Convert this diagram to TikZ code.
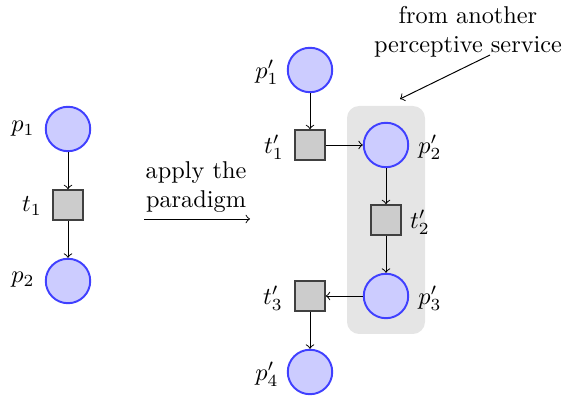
\documentclass[tikz,border=0pt]{standalone}
\usetikzlibrary{arrows}
\begin{document}
\begin{tikzpicture}[x=0.4115pt,y=-0.4115pt,
  place/.style={circle,draw=blue!75,fill=blue!20,thick,minimum size=18.3pt,inner sep=0pt},
  transition/.style={rectangle,draw=black!75,fill=black!20,thick,minimum size=12.2pt,inner sep=0pt},
  lbl/.style={inner sep=0pt},
  conn/.style={->}]
\useasboundingbox (0,0) rectangle (566,397);
\fill[black!10,rounded corners=5pt] (347,106) rectangle (425,334);
% left net
\node[place] (p1) at (68,129) {};
\node[transition] (t1) at (68,205) {};
\node[place] (p2) at (68,281) {};
\node[lbl] (lp1) at (23,129) {$p_1$};
\node[lbl] (lt1) at (32,206) {$t_1$};
\node[lbl] (lp2) at (23,280) {$p_2$};
\draw[conn] (p1) -- (t1);
\draw[conn] (t1) -- (p2);
% transformation arrow
\coordinate (a1) at (144,219);
\coordinate (a2) at (250,219);
\draw[conn] (a1) -- (a2);
\node[align=center,inner sep=0pt] (apply) at (196,187) {apply the\\paradigm};
% right net
\node[place] (q1) at (310,70) {};
\node[transition] (u1) at (310,145) {};
\node[place] (q2) at (386,145) {};
\node[transition] (u2) at (386,220) {};
\node[place] (q3) at (386,296) {};
\node[transition] (u3) at (310,296) {};
\node[place] (q4) at (310,372) {};
\node[lbl] (lq1) at (267,72) {$p'_1$};
\node[lbl] (lu1) at (274,147) {$t'_1$};
\node[lbl] (lq2) at (430,147) {$p'_2$};
\node[lbl] (lu2) at (420,222) {$t'_2$};
\node[lbl] (lq3) at (430,298) {$p'_3$};
\node[lbl] (lu3) at (273,298) {$t'_3$};
\node[lbl] (lq4) at (267,374) {$p'_4$};
\draw[conn] (q1) -- (u1);
\draw[conn] (u1) -- (q2);
\draw[conn] (q2) -- (u2);
\draw[conn] (u2) -- (q3);
\draw[conn] (q3) -- (u3);
\draw[conn] (u3) -- (q4);
% annotation
\node[align=center,inner sep=0pt] (from) at (468,32) {from another\\perceptive service};
\coordinate (f1) at (490,55);
\coordinate (f2) at (400,99);
\draw[conn] (f1) -- (f2);
\end{tikzpicture}
\end{document}
